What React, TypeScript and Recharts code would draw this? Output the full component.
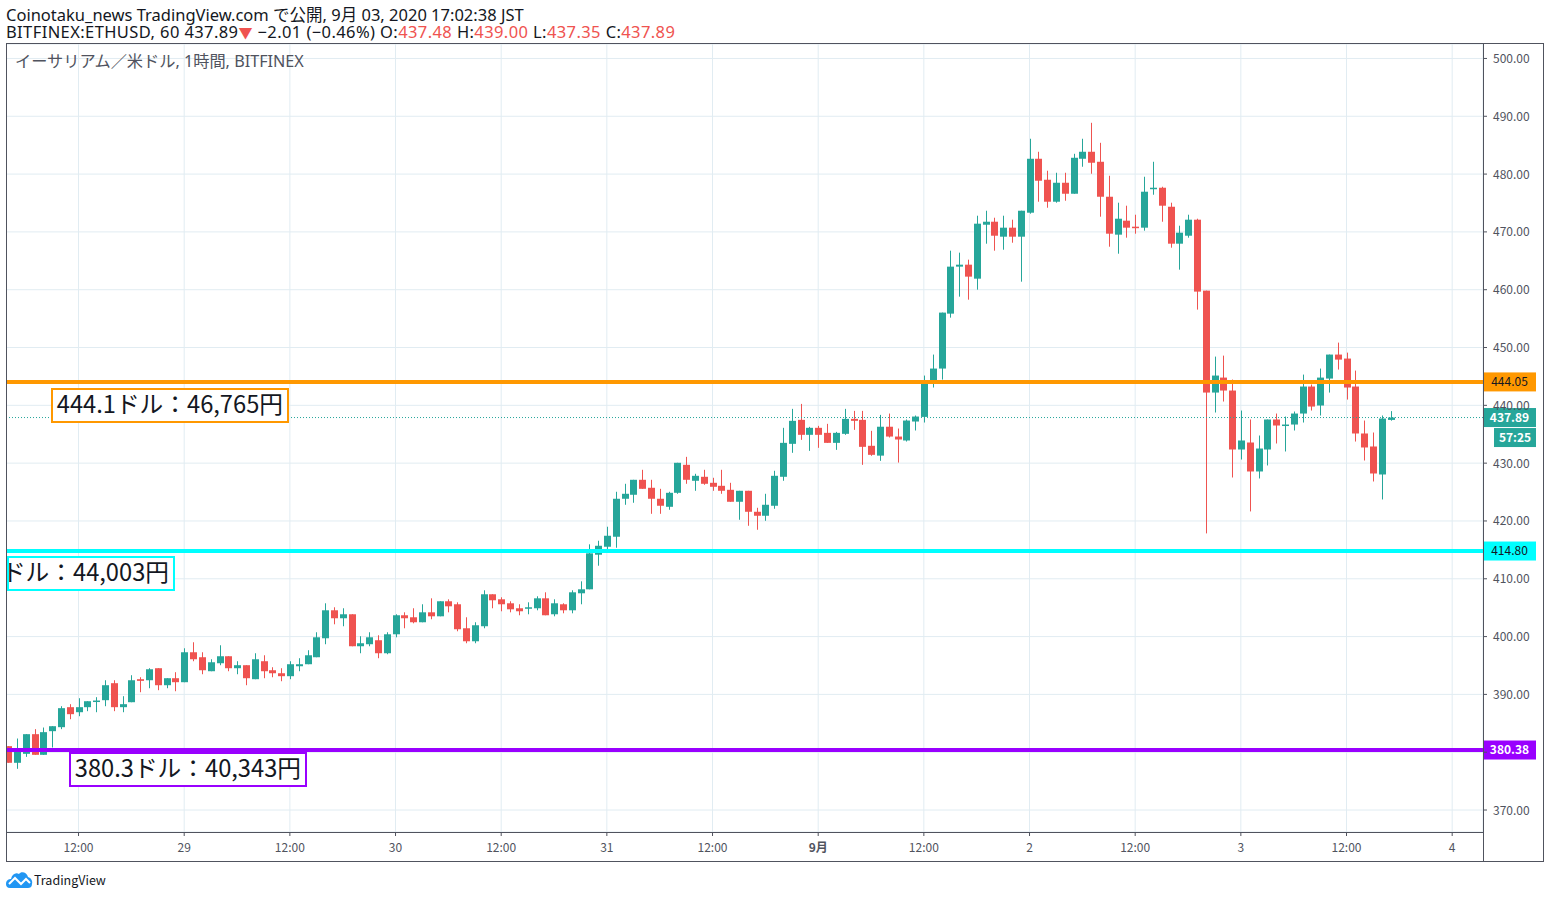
import React from "react";
import {
  ComposedChart,
  Bar,
  XAxis,
  YAxis,
  CartesianGrid,
  ReferenceLine,
} from "recharts";

// hourly candles, BITFINEX:ETHUSD
const opens = [
  381.05, 378.17, 379.72, 383.12, 379.55, 383.64, 384.33, 387.79, 386.92, 387.79,
  388.82, 389.0, 391.94, 387.79, 388.65, 392.63, 392.45, 394.53, 391.59, 392.8,
  392.11, 397.29, 396.43, 394.01, 395.39, 396.6, 394.53, 395.05, 392.63, 395.74,
  394.18, 393.66, 393.15, 394.87, 395.22, 396.43, 399.71, 404.55, 403.17, 403.86,
  398.33, 398.68, 399.37, 397.12, 400.4, 403.69, 403.34, 402.48, 404.2, 403.51,
  406.11, 405.59, 401.44, 399.19, 401.79, 407.32, 406.45, 405.76, 404.9, 404.95,
  404.9, 406.62, 403.86, 405.59, 404.55, 407.49, 408.18, 414.16, 415.54, 417.27,
  423.84, 424.53, 427.12, 425.74, 423.84, 422.45, 424.87, 429.71, 426.95, 427.64,
  426.6, 426.08, 425.39, 423.32, 425.22, 421.59, 420.9, 422.63, 427.64, 433.34,
  437.49, 434.9, 436.11, 435.24, 433.51, 435.07, 437.66, 437.49, 433.0, 431.3,
  436.3, 434.6, 433.92, 437.2, 438.0, 444.0, 446.36, 455.86, 463.99, 464.33,
  461.91, 471.24, 471.76, 469.17, 470.73, 469.17, 473.32, 482.65, 479.02, 475.22,
  478.5, 476.6, 482.65, 483.86, 482.13, 476.08, 469.52, 471.94, 470.9, 470.73,
  477.52, 477.64, 474.35, 467.96, 469.34, 472.11, 459.84, 442.21, 444.8, 442.56,
  432.36, 433.57, 428.56, 432.36, 437.55, 436.51, 436.68, 438.58, 443.25, 439.97,
  444.63, 448.78, 448.09, 443.25, 435.13, 432.88, 428.04, 437.48,
];
const closes = [
  378.17, 380.24, 383.12, 379.55, 383.47, 384.5, 387.62, 386.58, 387.79, 388.82,
  388.94, 391.59, 387.79, 388.31, 392.45, 392.34, 394.35, 391.59, 392.8, 392.11,
  397.29, 396.08, 394.18, 395.56, 396.6, 394.53, 395.05, 392.8, 396.08, 394.01,
  393.66, 393.15, 395.22, 395.22, 396.77, 399.88, 404.55, 403.17, 403.86, 398.33,
  398.85, 399.88, 397.12, 400.4, 403.69, 403.17, 402.48, 404.2, 403.51, 406.11,
  405.24, 401.27, 399.19, 401.96, 407.32, 406.28, 405.59, 404.72, 404.38, 405.07,
  406.62, 403.69, 405.76, 404.55, 407.66, 408.18, 414.4, 415.71, 417.44, 423.84,
  424.7, 427.12, 425.56, 423.84, 422.63, 424.87, 430.06, 427.12, 427.81, 426.43,
  425.91, 425.22, 423.32, 425.22, 421.59, 420.9, 422.8, 427.81, 433.51, 437.32,
  434.9, 436.11, 434.9, 433.51, 435.24, 437.66, 437.32, 432.82, 431.44, 436.3,
  434.6, 434.09, 437.37, 438.06, 443.8, 446.36, 456.04, 463.99, 464.33, 462.26,
  471.42, 471.76, 469.34, 470.73, 469.17, 473.66, 482.65, 478.85, 475.22, 478.5,
  476.6, 482.82, 483.86, 481.96, 476.08, 469.69, 472.28, 470.73, 470.73, 476.95,
  477.64, 474.53, 467.96, 469.86, 472.11, 459.67, 442.21, 445.15, 442.56, 432.36,
  433.92, 428.56, 432.53, 437.55, 436.51, 436.68, 438.58, 443.25, 439.79, 444.8,
  448.78, 447.91, 443.08, 435.13, 432.71, 428.21, 437.72, 437.89,
];
const highs = [
  381.05, 382.37, 383.12, 383.99, 384.27, 384.5, 387.96, 388.31, 389.34, 388.82,
  389.52, 392.45, 392.45, 389.69, 393.32, 392.97, 394.53, 394.53, 392.8, 393.84,
  397.98, 399.02, 397.29, 396.08, 398.5, 396.6, 395.74, 395.05, 397.12, 396.77,
  394.7, 394.53, 395.74, 396.26, 397.64, 400.75, 405.76, 405.07, 404.9, 403.86,
  400.06, 400.75, 400.23, 400.75, 403.86, 404.2, 404.9, 405.59, 406.62, 406.11,
  406.45, 405.93, 403.34, 402.48, 408.01, 407.32, 406.8, 406.11, 405.59, 405.93,
  406.97, 407.66, 406.45, 405.76, 408.01, 409.56, 415.96, 416.58, 419.0, 425.05,
  426.43, 427.12, 428.85, 427.12, 425.56, 425.05, 430.06, 431.09, 428.16, 428.85,
  427.47, 428.85, 426.6, 425.22, 425.22, 422.28, 424.7, 428.68, 436.11, 439.39,
  440.25, 436.28, 436.45, 436.8, 435.41, 439.39, 439.04, 439.04, 435.59, 438.35,
  438.58, 435.99, 437.55, 438.24, 445.15, 448.78, 456.04, 466.75, 466.41, 465.2,
  472.8, 473.66, 472.45, 472.8, 472.11, 473.66, 486.11, 483.86, 480.58, 480.23,
  480.23, 483.51, 486.11, 488.87, 485.41, 479.71, 475.05, 474.53, 472.97, 479.54,
  482.13, 477.81, 475.05, 471.07, 472.97, 472.28, 459.84, 448.43, 448.6, 444.46,
  439.1, 437.55, 434.78, 437.55, 438.58, 438.06, 438.93, 445.32, 443.6, 446.36,
  448.78, 450.85, 449.12, 446.01, 437.37, 435.3, 438.24, 439.0,
];
const lows = [
  378.17, 377.13, 379.2, 379.55, 379.55, 380.82, 383.99, 385.71, 386.23, 387.1,
  386.92, 387.96, 387.1, 386.92, 388.65, 390.38, 391.07, 390.73, 391.07, 390.55,
  392.11, 395.74, 393.49, 394.01, 395.05, 394.01, 393.49, 391.59, 392.63, 392.8,
  392.97, 392.28, 392.63, 394.01, 395.22, 396.43, 398.68, 402.13, 401.79, 398.33,
  397.12, 398.33, 396.26, 396.95, 399.88, 401.44, 402.3, 402.48, 403.0, 403.51,
  404.2, 400.92, 398.85, 398.85, 401.44, 404.9, 404.38, 404.2, 403.69, 403.86,
  404.55, 403.69, 403.51, 404.03, 404.03, 405.59, 408.18, 412.26, 414.5, 415.37,
  422.8, 423.15, 425.56, 421.24, 421.24, 421.94, 424.7, 426.43, 425.22, 426.26,
  425.22, 424.7, 423.32, 420.21, 419.17, 418.48, 420.03, 422.11, 426.95, 431.79,
  434.03, 432.13, 432.65, 433.51, 432.3, 434.9, 435.76, 429.71, 431.27, 430.4,
  434.44, 430.1, 433.74, 435.65, 437.03, 443.08, 444.46, 455.17, 458.8, 458.28,
  460.01, 467.96, 466.75, 466.92, 468.13, 461.39, 473.15, 475.22, 474.18, 475.05,
  475.39, 476.6, 481.27, 480.06, 472.63, 467.44, 466.23, 469.0, 469.69, 470.21,
  476.43, 471.76, 467.27, 463.47, 469.0, 456.56, 417.85, 438.76, 440.66, 427.52,
  430.63, 421.65, 427.35, 429.6, 433.4, 432.02, 435.65, 437.03, 439.1, 438.24,
  442.21, 446.19, 441.0, 433.74, 430.46, 426.83, 423.72, 437.35,
];

const xTicks = [8, 20, 32, 44, 56, 68, 80, 92, 104, 116, 128, 140, 152, 164];
const xLabels = ["12:00", "29", "12:00", "30", "12:00", "31", "12:00", "9月", "12:00", "2", "12:00", "3", "12:00", "4"];
const yTicks = [370, 380, 390, 400, 410, 420, 430, 440, 450, 460, 470, 480, 490, 500];
// covered by the purple price tag in the picture
const hiddenYLabels = [380];

const levels = [
  { price: 444.05, color: "#ff9800", text: "#131722", bold: false },
  { price: 414.8, color: "#00ffff", text: "#131722", bold: false },
  { price: 380.38, color: "#9900ff", text: "#ffffff", bold: true },
];
const lastPrice = 437.89;
const countdown = "57:25";

const data = opens.map((open, i) => ({
  i,
  open,
  close: closes[i],
  high: highs[i],
  low: lows[i],
}));

const UP = "#26a69a";
const DOWN = "#ef5350";
const AXIS = "#50535e";
const GRID = "#e1ecf2";
const FONT = "'Noto Sans CJK JP', 'Noto Sans', sans-serif";
const HEAD_FONT = "'Noto Sans', 'Noto Sans CJK JP', sans-serif";

const Candle = (props: any) => {
  const { x, y, width, height, payload } = props;
  const color = payload.close >= payload.open ? UP : DOWN;
  const k = height / (payload.high - payload.low || 1);
  const top = y + (payload.high - Math.max(payload.open, payload.close)) * k;
  const bottom = y + (payload.high - Math.min(payload.open, payload.close)) * k;
  const cx = Math.round(x + width / 2);
  return (
    <g>
      <rect x={cx} y={y} width={1} height={height} fill={color} />
      <rect x={cx - 3} y={top} width={7} height={Math.max(bottom - top, 1.5)} fill={color} />
    </g>
  );
};

const XTick = (props: any) => {
  const { x, y, payload } = props;
  const label = xLabels[xTicks.indexOf(payload.value)];
  return (
    <text
      x={x}
      y={y + 14}
      textAnchor="middle"
      fontSize={12}
      fontFamily={FONT}
      fontWeight={label === "9月" ? 700 : 400}
      fill={AXIS}
    >
      {label}
    </text>
  );
};

const YTick = (props: any) => {
  const { x, y, payload } = props;
  if (hiddenYLabels.includes(payload.value)) return <g />;
  return (
    <text x={x + 4} y={y + 4.5} fontSize={12} fontFamily={FONT} fill={AXIS}>
      {payload.value.toFixed(2)}
    </text>
  );
};

const PriceTag = (props: any) => {
  const { viewBox, value, color, text, bold } = props;
  const x = viewBox.x + viewBox.width;
  return (
    <g>
      <rect x={x} y={viewBox.y - 9.5} width={53} height={19} fill={color} />
      <text
        x={x + 26.5}
        y={viewBox.y + 4}
        textAnchor="middle"
        fontSize={12}
        fontWeight={bold ? 700 : 400}
        fontFamily={FONT}
        fill={text}
      >
        {value}
      </text>
    </g>
  );
};

const LastPriceTag = (props: any) => {
  const { viewBox } = props;
  const x = viewBox.x + viewBox.width;
  return (
    <g>
      <PriceTag viewBox={viewBox} value={lastPrice.toFixed(2)} color={UP} text="#ffffff" bold />
      <rect x={x + 11} y={viewBox.y + 10.5} width={42} height={19} fill={UP} />
      <text
        x={x + 32}
        y={viewBox.y + 24.5}
        textAnchor="middle"
        fontSize={12}
        fontWeight={700}
        fontFamily={FONT}
        fill="#ffffff"
      >
        {countdown}
      </text>
    </g>
  );
};

const NoteBox = ({
  left,
  top,
  width,
  color,
  clip,
  children,
}: {
  left: number;
  top: number;
  width: number;
  color: string;
  clip?: boolean;
  children: React.ReactNode;
}) => (
  <div
    style={{
      position: "absolute",
      left,
      top,
      width,
      height: 35,
      boxSizing: "border-box",
      border: `2px solid ${color}`,
      background: "#fff",
      fontSize: 23.7,
      lineHeight: "27px",
      color: "#131722",
      whiteSpace: "nowrap",
      overflow: clip ? "hidden" : "visible",
      display: "flex",
      justifyContent: "flex-end",
      paddingRight: 4,
    }}
  >
    {children}
  </div>
);

const App = () => {
  return (
    <div
      style={{
        position: "absolute",
        left: 0,
        top: 0,
        width: 1550,
        height: 898,
        background: "#fff",
        fontFamily: FONT,
        overflow: "hidden",
      }}
    >
      <div style={{ position: "absolute", left: 6, top: 5, fontSize: 16.5, lineHeight: "20px", fontFamily: HEAD_FONT, color: "#131722", whiteSpace: "nowrap" }}>
        Coinotaku_news TradingView.com で公開, 9月 03, 2020 17:02:38 JST
      </div>
      <div style={{ position: "absolute", left: 6, top: 22, fontSize: 16.5, letterSpacing: 0.4, lineHeight: "20px", fontFamily: HEAD_FONT, color: "#131722", whiteSpace: "nowrap" }}>
        BITFINEX:ETHUSD, 60 437.89<span style={{ color: DOWN, fontSize: 14 }}>▼</span> −2.01 (−0.46%) O:
        <span style={{ color: DOWN }}>437.48</span> H:<span style={{ color: DOWN }}>439.00</span> L:
        <span style={{ color: DOWN }}>437.35</span> C:<span style={{ color: DOWN }}>437.89</span>
      </div>

      <div style={{ position: "absolute", left: 0, top: 0 }}>
        <ComposedChart
          width={1550}
          height={898}
          data={data}
          margin={{ top: 44, right: 7, bottom: 37, left: 6.5 }}
        >
          <CartesianGrid stroke={GRID} strokeWidth={1} />
          <XAxis
            dataKey="i"
            type="number"
            domain={[-0.18, 167.5]}
            allowDataOverflow
            ticks={xTicks}
            interval={0}
            height={29}
            tick={<XTick />}
            tickSize={4}
            axisLine={false}
            stroke={AXIS}
          />
          <YAxis
            orientation="right"
            type="number"
            domain={[366.2, 502.5]}
            allowDataOverflow
            ticks={yTicks}
            interval={0}
            width={60}
            tick={<YTick />}
            tickSize={4}
            axisLine={false}
            stroke={AXIS}
          />
          <Bar
            dataKey={(d: any) => [d.low, d.high]}
            shape={<Candle />}
            barSize={7}
            isAnimationActive={false}
          />
          <ReferenceLine
            y={lastPrice}
            stroke={UP}
            strokeDasharray="1 2"
            label={<LastPriceTag />}
          />
          {levels.map((l) => (
            <ReferenceLine
              key={l.price}
              y={l.price}
              stroke={l.color}
              strokeWidth={4}
              label={<PriceTag value={l.price.toFixed(2)} color={l.color} text={l.text} bold={l.bold} />}
            />
          ))}
        </ComposedChart>
      </div>

      <NoteBox left={51} top={388} width={238} color="#ff9800">
        444.1ドル：46,765円
      </NoteBox>
      <NoteBox left={7} top={556} width={168} color="#00ffff" clip>
        ドル：44,003円
      </NoteBox>
      <NoteBox left={69} top={752} width={238} color="#9900ff">
        380.3ドル：40,343円
      </NoteBox>

      <div style={{ position: "absolute", left: 15, top: 50, fontSize: 16.2, lineHeight: "23px", fontFamily: HEAD_FONT, color: "#50535e", whiteSpace: "nowrap" }}>
        イーサリアム／米ドル, 1時間, BITFINEX
      </div>

      <div
        style={{
          position: "absolute",
          left: 6,
          top: 43,
          width: 1538,
          height: 819,
          boxSizing: "border-box",
          border: `1px solid ${AXIS}`,
          pointerEvents: "none",
        }}
      />
      <div style={{ position: "absolute", left: 6, top: 832, width: 1477, height: 1, background: AXIS }} />
      <div style={{ position: "absolute", left: 1483, top: 43, width: 1, height: 819, background: AXIS }} />

      <svg style={{ position: "absolute", left: 6, top: 871 }} width={27} height={18} viewBox="0 0 27 18">
        <path
          d="M0 13 C0 9 3 8 5 8 C6 3 10 1 13 3 C15 0 21 1 22 6 C25 7 27 10 26 13 C26 16 24 17 22 17 L4 17 C1 17 0 15 0 13 Z"
          fill="#2196f3"
        />
        <path d="M3 13 L9 7 L15 13 L20 8 L24 12" fill="none" stroke="#fff" strokeWidth={2} />
      </svg>
      <div style={{ position: "absolute", left: 34, top: 871, fontSize: 12.5, lineHeight: "18px", color: "#131722" }}>
        TradingView
      </div>
    </div>
  );
};

export default App;
